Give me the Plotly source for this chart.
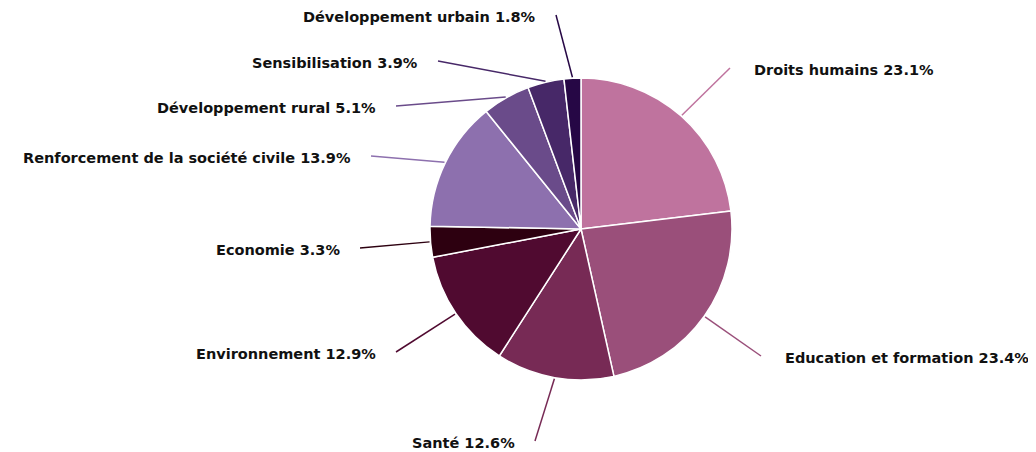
import math
import plotly.graph_objects as go

# ---- data ----
categories = [
    "Droits humains", "Education et formation", "Santé", "Environnement",
    "Economie", "Renforcement de la société civile", "Développement rural",
    "Sensibilisation", "Développement urbain",
]
shares = [23.1, 23.4, 12.6, 12.9, 3.3, 13.9, 5.1, 3.9, 1.8]

# ---- style ----
colors = ["#bf739e", "#9a4f7a", "#772a55", "#500a30", "#2d0010",
          "#8d70ae", "#6a4b8a", "#472868", "#260745"]
W, H = 1036, 452
OFF = 8  # page body margin offset
cx, cy, R = 581 - OFF, 229 - OFF, 151
# label anchor (pixel x, pixel y, side) in screen pixels
label_pos = [(752, 70, "left"), (783, 358, "left"), (517, 443, "right"),
             (378, 354, "right"), (342, 250, "right"), (353, 158, "right"),
             (378, 108, "right"), (420, 63, "right"), (538, 17, "right")]

fig = go.Figure()
fig.add_trace(go.Pie(
    labels=categories, values=shares, sort=False, direction="clockwise",
    rotation=0, textinfo="none", hoverinfo="label+percent",
    marker=dict(colors=colors, line=dict(color="white", width=1.5)),
    domain=dict(x=[(cx - R) / W, (cx + R) / W],
                y=[1 - (cy + R) / H, 1 - (cy - R) / H]),
    showlegend=False,
))

total = sum(shares)
cum = 0.0
shapes, annotations = [], []
for name, v, col, (lx, ly, side) in zip(categories, shares, colors, label_pos):
    lx, ly = lx - OFF, ly - OFF
    mid = (cum + v / 2) / total * 2 * math.pi
    cum += v
    ix = cx + (R + 1) * math.sin(mid)
    iy = cy - (R + 1) * math.cos(mid)
    ox = lx + 18 if side == "right" else lx - 22
    oy = ly - 2
    shapes.append(dict(type="line", xref="paper", yref="paper",
                       x0=ix / W, y0=1 - iy / H, x1=ox / W, y1=1 - oy / H,
                       line=dict(color=col, width=1.5)))
    annotations.append(dict(
        xref="paper", yref="paper", x=lx / W, y=1 - ly / H,
        xanchor=side, yanchor="middle", showarrow=False,
        text=f"<b>{name} {v:.1f}%</b>",
        font=dict(family="DejaVu Sans", size=14.5, color="#111111"),
    ))

fig.update_layout(
    width=W, height=H, margin=dict(l=0, r=0, t=0, b=0),
    paper_bgcolor="white", plot_bgcolor="white",
    shapes=shapes, annotations=annotations,
)
fig.write_html("out.html")
